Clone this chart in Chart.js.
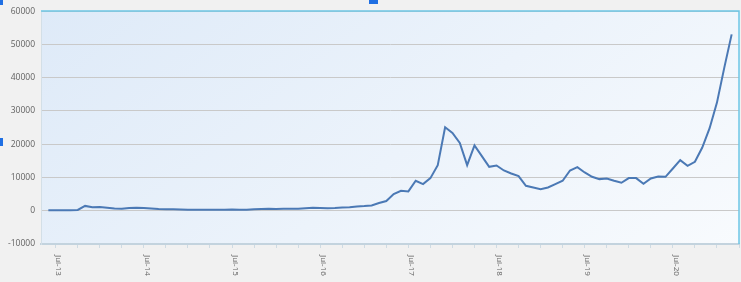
<!DOCTYPE html>
<html>
<head>
<meta charset="utf-8">
<script src="https://cdn.jsdelivr.net/npm/chart.js@4"></script>
<style>
    html, body { margin: 0; padding: 0; background: #f1f1f1; }
    #wrap { position: relative; width: 741px; height: 282px; }
    .handle { position: absolute; background: #1f6fe3; }
</style>
</head>
<body>
<div id="wrap">
    <canvas id="btcChart" width="741" height="282"></canvas>
    <div class="handle" style="left:0;top:0;width:3px;height:5px"></div>
    <div class="handle" style="left:369px;top:0;width:9px;height:4px"></div>
    <div class="handle" style="left:0;top:138px;width:3px;height:8px"></div>
</div>
<script>
// months (one empty month padding each end)
const months = [
    'May-13', 'Jun-13', 'Jul-13', 'Aug-13', 'Sep-13', 'Oct-13', 'Nov-13', 'Dec-13',
    'Jan-14', 'Feb-14', 'Mar-14', 'Apr-14', 'May-14', 'Jun-14', 'Jul-14', 'Aug-14', 'Sep-14', 'Oct-14', 'Nov-14', 'Dec-14',
    'Jan-15', 'Feb-15', 'Mar-15', 'Apr-15', 'May-15', 'Jun-15', 'Jul-15', 'Aug-15', 'Sep-15', 'Oct-15', 'Nov-15', 'Dec-15',
    'Jan-16', 'Feb-16', 'Mar-16', 'Apr-16', 'May-16', 'Jun-16', 'Jul-16', 'Aug-16', 'Sep-16', 'Oct-16', 'Nov-16', 'Dec-16',
    'Jan-17', 'Feb-17', 'Mar-17', 'Apr-17', 'May-17', 'Jun-17', 'Jul-17', 'Aug-17', 'Sep-17', 'Oct-17', 'Nov-17', 'Dec-17',
    'Jan-18', 'Feb-18', 'Mar-18', 'Apr-18', 'May-18', 'Jun-18', 'Jul-18', 'Aug-18', 'Sep-18', 'Oct-18', 'Nov-18', 'Dec-18',
    'Jan-19', 'Feb-19', 'Mar-19', 'Apr-19', 'May-19', 'Jun-19', 'Jul-19', 'Aug-19', 'Sep-19', 'Oct-19', 'Nov-19', 'Dec-19',
    'Jan-20', 'Feb-20', 'Mar-20', 'Apr-20', 'May-20', 'Jun-20', 'Jul-20', 'Aug-20', 'Sep-20', 'Oct-20', 'Nov-20', 'Dec-20',
    'Jan-21', 'Feb-21', 'Mar-21', 'Apr-21'
];

const prices = [
    null, 120, 110, 150, 180, 250, 1450, 1050,
    1100, 900, 700, 580, 800, 900, 850, 700, 550, 450, 480, 400,
    300, 320, 330, 310, 300, 330, 380, 320, 320, 420, 500, 580,
    520, 590, 560, 620, 730, 880, 840, 780, 830, 950, 1050, 1300,
    1400, 1600, 2300, 2900, 5000, 6000, 5800, 9000, 8000, 9800, 13700, 25100,
    23400, 20400, 13700, 19600, 16400, 13200, 13600, 12100, 11200, 10400, 7500, 7000,
    6500, 7000, 8000, 9000, 12100, 13100, 11500, 10200, 9500, 9700, 9000, 8400,
    9800, 9800, 8100, 9700, 10300, 10200, 12700, 15200, 13500, 14700, 19000, 24800,
    32500, 43000, 53000, null
];

const xTickLabels = ['Jul-13', 'Jul-14', 'Jul-15', 'Jul-16', 'Jul-17', 'Jul-18', 'Jul-19', 'Jul-20'];

const labelFont = '8px "Open Sans"';
const labelColor = '#626262';

// plot background + top/right frame
const plotBackground = {
    id: 'plotBackground',
    beforeDraw(chart) {
        const { ctx, chartArea: a } = chart;
        ctx.save();
        const g = ctx.createLinearGradient(a.left, a.top, a.left + 420, a.top + 520);
        g.addColorStop(0, '#deeaf8');
        g.addColorStop(1, '#fafcfe');
        ctx.fillStyle = g;
        ctx.fillRect(a.left, a.top, a.right - a.left, a.bottom - a.top);
        ctx.restore();
    },
    afterDraw(chart) {
        const { ctx, chartArea: a } = chart;
        ctx.save();
        ctx.strokeStyle = '#6cc6e6';
        ctx.lineWidth = 1.5;
        ctx.beginPath();
        ctx.moveTo(a.left, a.top);
        ctx.lineTo(a.right, a.top);
        ctx.lineTo(a.right, a.bottom);
        ctx.stroke();
        ctx.restore();
    }
};

// x labels rotated clockwise (read top to bottom)
const rotatedLabels = {
    id: 'rotatedLabels',
    afterDraw(chart) {
        const { ctx } = chart;
        const x = chart.scales.x;
        ctx.save();
        ctx.font = labelFont;
        ctx.fillStyle = labelColor;
        ctx.textAlign = 'left';
        ctx.textBaseline = 'middle';
        months.forEach((m, i) => {
            if (!xTickLabels.includes(m)) return;
            ctx.save();
            ctx.translate(x.getPixelForValue(i) + 3, 255);
            ctx.rotate(Math.PI / 2);
            ctx.fillText(m, 0, 0);
            ctx.restore();
        });
        ctx.restore();
    }
};

new Chart(document.getElementById('btcChart'), {
    type: 'line',
    data: {
        labels: months,
        datasets: [{
            data: prices,
            borderColor: '#4b79b5',
            borderWidth: 2,
            pointRadius: 0,
            tension: 0,
            fill: false
        }]
    },
    options: {
        responsive: false,
        animation: false,
        events: [],
        layout: { padding: { top: 8, right: 2, left: 0, bottom: 0 } },
        plugins: { legend: { display: false }, tooltip: { enabled: false } },
        scales: {
            x: {
                offset: false,
                afterFit: (s) => { s.height = 38; },
                grid: {
                    drawOnChartArea: false,
                    drawTicks: true,
                    tickLength: 4,
                    color: (c) => (c.index % 3 === 2 ? '#cfdbe3' : 'rgba(0,0,0,0)')
                },
                border: { color: '#c3d3de', width: 2 },
                ticks: { display: false, autoSkip: false }
            },
            y: {
                min: -10000,
                max: 60000,
                afterFit: (s) => { s.width = 41; },
                grid: { color: '#c9c9c9', drawTicks: false },
                border: { color: '#d3dfe7', width: 1 },
                ticks: {
                    stepSize: 10000,
                    padding: 6,
                    color: labelColor,
                    font: { family: 'Open Sans', size: 8.5 },
                    callback: (v) => String(v)
                }
            }
        }
    },
    plugins: [plotBackground, rotatedLabels]
});
</script>
</body>
</html>
